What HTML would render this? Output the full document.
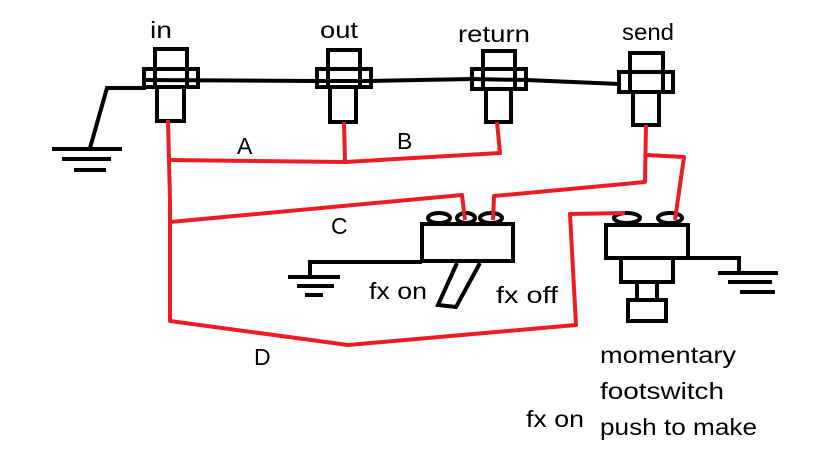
<!DOCTYPE html>
<html><head><meta charset="utf-8"><style>
html,body{margin:0;padding:0;background:#fff;}
svg{display:block;}
text{font-family:"Liberation Sans",sans-serif;font-size:23px;fill:#000;}
</style></head><body>
<svg width="819" height="460" viewBox="0 0 819 460" xmlns="http://www.w3.org/2000/svg">
<g fill="none" stroke="#000" stroke-width="4">
<!-- black wire -->
<polyline points="144,80 316,81 371,81 471,79 526,80 620,84"/>
<polyline points="146,88 107,88 90,148"/>
<line x1="52" y1="149" x2="122" y2="149"/>
<line x1="62" y1="159" x2="111" y2="159"/>
<line x1="74" y1="170" x2="106" y2="170"/>
<!-- jacks -->
<rect x="155" y="49" width="32" height="20"/><rect x="144" y="69" width="54" height="18"/><rect x="157" y="87" width="27" height="34"/>
<line x1="155" y1="69" x2="155" y2="87"/><line x1="187" y1="69" x2="187" y2="87"/>
<rect x="328" y="50" width="32" height="19"/><rect x="317" y="69" width="54" height="18"/><rect x="330" y="87" width="26" height="35"/>
<line x1="328" y1="69" x2="328" y2="87"/><line x1="360" y1="69" x2="360" y2="87"/>
<rect x="483" y="51" width="32" height="18"/><rect x="472" y="69" width="54" height="20"/><rect x="486" y="89" width="25" height="33"/>
<line x1="483" y1="69" x2="483" y2="89"/><line x1="515" y1="69" x2="515" y2="89"/>
<rect x="630" y="53" width="33" height="19"/><rect x="619" y="72" width="54" height="20"/><rect x="633" y="92" width="26" height="33"/>
<line x1="630" y1="72" x2="630" y2="92"/><line x1="663" y1="72" x2="663" y2="92"/>
<!-- toggle switch -->
<rect x="422" y="224" width="91" height="37"/>
<ellipse cx="439" cy="218" rx="11" ry="5"/><ellipse cx="466" cy="218" rx="9" ry="5"/><ellipse cx="491" cy="218" rx="11" ry="5"/>
<polyline points="457,263 438,305 456,307 480,263"/>
<polyline points="422,262 310,262 310,276"/>
<line x1="288" y1="277" x2="340" y2="277"/>
<line x1="297" y1="286" x2="334" y2="286"/>
<line x1="305" y1="295" x2="323" y2="295"/>
<!-- momentary -->
<rect x="606" y="225" width="82" height="33"/>
<ellipse cx="627" cy="218" rx="13" ry="5"/><ellipse cx="670" cy="218" rx="12" ry="5"/>
<rect x="621" y="258" width="52" height="24"/>
<rect x="637" y="282" width="20" height="18"/>
<rect x="628" y="300" width="38" height="21"/>
<polyline points="688,258 739,258 739,272"/>
<line x1="718" y1="273" x2="778" y2="273"/>
<line x1="728" y1="282" x2="772" y2="282"/>
<line x1="740" y1="292" x2="775" y2="292"/>
</g>
<g fill="none" stroke="#ed1c24" stroke-width="4" stroke-linejoin="round">
<polyline points="168,120 170,200 170,321 348,345 576,325 570,214 625,213"/>
<polyline points="170,160 345,162 500,153 497,122"/>
<line x1="344" y1="122" x2="345" y2="162"/>
<polyline points="170,222 462,195 465,220"/>
<polyline points="493,220 494,196 645,182 646,125"/>
<polyline points="646,155 684,157 675,220"/>
</g>
<text x="150" y="38" textLength="22" lengthAdjust="spacingAndGlyphs">in</text>
<text x="320" y="38" textLength="38" lengthAdjust="spacingAndGlyphs">out</text>
<text x="458" y="42" textLength="72" lengthAdjust="spacingAndGlyphs">return</text>
<text x="622" y="40" textLength="52" lengthAdjust="spacingAndGlyphs">send</text>
<text x="237" y="154">A</text>
<text x="397" y="149">B</text>
<text x="331" y="234">C</text>
<text x="254" y="365">D</text>
<text x="369" y="299" textLength="58" lengthAdjust="spacingAndGlyphs">fx on</text>
<text x="496" y="303" textLength="62" lengthAdjust="spacingAndGlyphs">fx off</text>
<text x="526" y="427" textLength="58" lengthAdjust="spacingAndGlyphs">fx on</text>
<text x="600" y="363" textLength="136" lengthAdjust="spacingAndGlyphs">momentary</text>
<text x="600" y="399" textLength="124" lengthAdjust="spacingAndGlyphs">footswitch</text>
<text x="600" y="435" textLength="157" lengthAdjust="spacingAndGlyphs">push to make</text>
</svg>
</body></html>
